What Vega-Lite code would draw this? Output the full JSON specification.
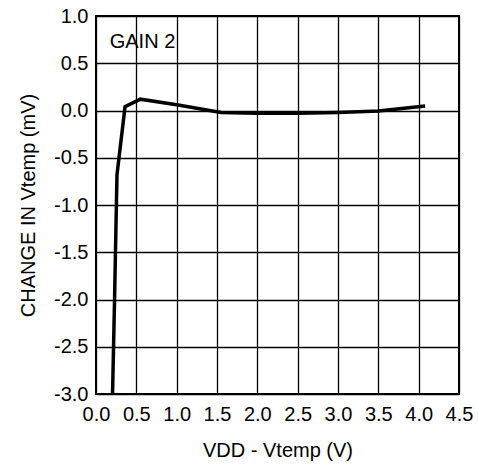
{
  "$schema": "https://vega.github.io/schema/vega-lite/v6.json",
  "width": 363,
  "height": 378,
  "autosize": {"type": "none"},
  "padding": {"left": 96, "top": 16, "right": 19, "bottom": 71},
  "background": "white",
  "datasets": {
    "curve": [
      {"v": 0.205, "c": -3.0},
      {"v": 0.23, "c": -2.0},
      {"v": 0.26, "c": -0.68},
      {"v": 0.36, "c": 0.04},
      {"v": 0.55, "c": 0.12},
      {"v": 1.0, "c": 0.06},
      {"v": 1.55, "c": -0.02},
      {"v": 2.0, "c": -0.03},
      {"v": 2.5, "c": -0.03},
      {"v": 3.0, "c": -0.02},
      {"v": 3.5, "c": -0.005},
      {"v": 4.08, "c": 0.048}
    ],
    "labels": [
      {"v": 0.17, "c": 0.72, "text": "GAIN 2"}
    ]
  },
  "config": {
    "view": {"stroke": "black", "strokeWidth": 2},
    "axis": {
      "labelFont": "Liberation Sans",
      "titleFont": "Liberation Sans",
      "labelFontSize": 20,
      "titleFontSize": 20,
      "labelColor": "black",
      "titleColor": "black",
      "titleFontWeight": "normal",
      "gridColor": "black",
      "gridOpacity": 1,
      "gridWidth": 1.3,
      "domain": false,
      "ticks": false
    }
  },
  "layer": [
    {
      "data": {"name": "curve"},
      "mark": {"type": "line", "color": "black", "strokeWidth": 3.5, "strokeJoin": "miter"},
      "encoding": {
        "x": {
          "field": "v", "type": "quantitative",
          "scale": {"domain": [0, 4.5], "nice": false, "zero": false},
          "axis": {"values": [0, 0.5, 1, 1.5, 2, 2.5, 3, 3.5, 4, 4.5], "format": ".1f", "title": "VDD - Vtemp (V)", "labelPadding": 10, "titlePadding": 16, "labelFlush": false, "labelOverlap": false}
        },
        "y": {
          "field": "c", "type": "quantitative",
          "scale": {"domain": [-3, 1], "nice": false, "zero": false},
          "axis": {"values": [-3, -2.5, -2, -1.5, -1, -0.5, 0, 0.5, 1], "labelExpr": "(datum.value < 0 ? '-' : '') + format(abs(datum.value), '.1f')", "title": "CHANGE IN Vtemp (mV)", "labelPadding": 8, "titlePadding": 15, "labelFlush": false, "labelOverlap": false}
        }
      }
    },
    {
      "data": {"name": "labels"},
      "mark": {"type": "text", "align": "left", "baseline": "middle", "font": "Liberation Sans", "fontSize": 20, "color": "black"},
      "encoding": {
        "x": {"field": "v", "type": "quantitative"},
        "y": {"field": "c", "type": "quantitative"},
        "text": {"field": "text"}
      }
    }
  ]
}
